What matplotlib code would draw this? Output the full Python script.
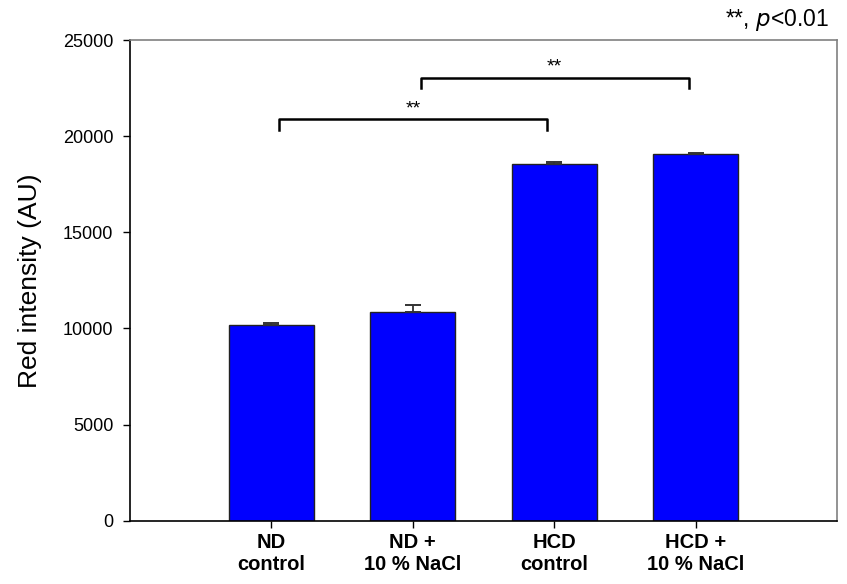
import matplotlib
matplotlib.use("Agg")
import matplotlib.pyplot as plt
from matplotlib.transforms import ScaledTranslation

plt.rcParams['font.family'] = ['Liberation Sans', 'DejaVu Sans']

categories = ["ND\ncontrol", "ND +\n10 % NaCl", "HCD\ncontrol", "HCD +\n10 % NaCl"]
means = [10200, 10850, 18550, 19070]
errors = [80, 380, 120, 50]
yticks = [0, 5000, 10000, 15000, 20000, 25000]

# significance comparisons: (index a, index b, label)
comparisons = [(0, 2, "**"), (1, 3, "**")]

fig = plt.figure(figsize=(8.47, 5.84), dpi=100)
ax = fig.add_axes([0.1535, 0.1084, 0.8347, 0.8231])

x = list(range(len(categories)))
ax.bar(x, means, width=0.6, color='#0000FF', edgecolor='#222222', linewidth=1.0, zorder=2)
ax.errorbar(x, means, yerr=[[0]*len(errors), errors], fmt='none', ecolor='#333333',
            elinewidth=1.3, capsize=6, capthick=1.4, zorder=3)

ax.set_xlim(-1, 4)
ax.set_ylim(0, 25000)
ax.set_yticks(yticks)
ax.set_yticklabels([str(v) for v in yticks], fontsize=13)
ax.set_xticks(x)
ax.set_xticklabels(categories, fontsize=14.5, fontweight='bold', linespacing=1.2)
ax.set_ylabel("Red intensity (AU)", fontsize=19)
ax.yaxis.set_label_coords(-0.124, 0.5)

# second label sits slightly right of its tick in the reference
lbl = ax.get_xticklabels()[1]
lbl.set_transform(lbl.get_transform() + ScaledTranslation(7/100, 0, fig.dpi_scale_trans))

for s in ['left', 'bottom']:
    ax.spines[s].set_color('black')
    ax.spines[s].set_linewidth(1.2)
for s in ['top', 'right']:
    ax.spines[s].set_color('#808080')
    ax.spines[s].set_linewidth(1.2)
ax.tick_params(axis='y', direction='out', length=5, width=1, pad=7)
ax.tick_params(axis='x', direction='out', length=5, width=1, pad=4)

levels = [20870, 23040]
for (a, b, lab), lv in zip(comparisons, levels):
    x0, x1 = a + 0.055, b - 0.05
    drop = 550
    ax.plot([x0, x0, x1, x1], [lv - drop, lv, lv, lv - drop], color='black', lw=1.8,
            solid_joinstyle='round', zorder=4, clip_on=False)
    ax.text((x0 + x1) / 2, lv + 120, lab, ha='center', va='bottom', fontsize=14)

fig.text(0.978, 0.9555, "**, $\\it{p}$<0.01", ha='right', va='baseline', fontsize=16.5)

fig.savefig("out.png", dpi=100)
